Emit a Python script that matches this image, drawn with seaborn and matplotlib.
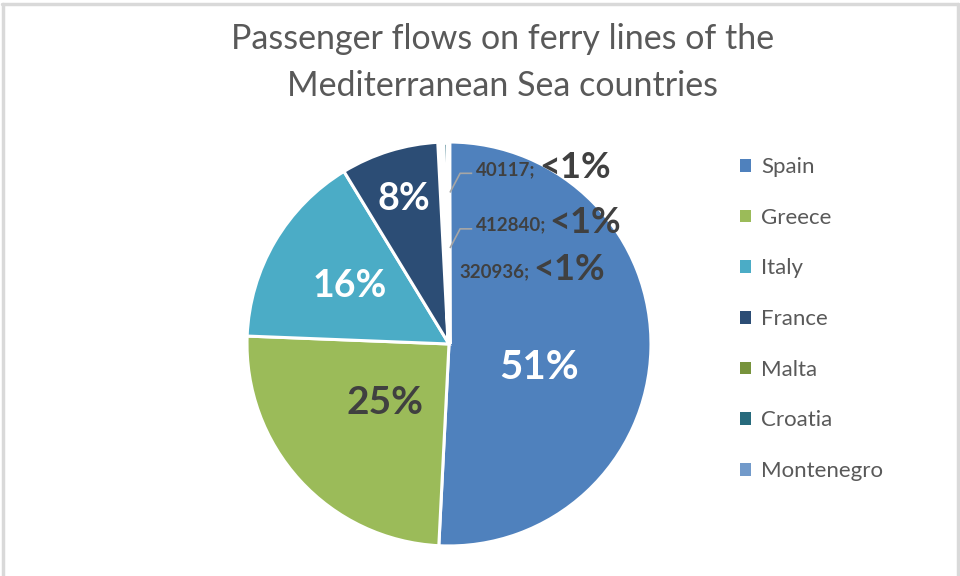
import numpy as np
import seaborn as sns
import matplotlib.pyplot as plt
from matplotlib.patches import Patch
from matplotlib.lines import Line2D

sns.set_theme(style="white")
plt.rcParams['font.family'] = ['Lato', 'DejaVu Sans']

# passenger counts (small slices are labelled with their values)
countries = ["Spain", "Greece", "Italy", "France", "Malta", "Croatia", "Montenegro"]
passengers = [48300000, 23600000, 14900000, 7500000, 320936, 412840, 40117]
colors = ["#4F81BD", "#9BBB59", "#4BACC6", "#2C4D75", "#77933C", "#276A7C", "#729ACA"]

fig = plt.figure(figsize=(9.6, 5.76), dpi=100)
ax = fig.add_axes([0.2573, 0.0521, 0.4208, 0.7014])

wedges, _ = ax.pie(passengers, colors=colors, startangle=90, counterclock=False,
                   radius=1.0, wedgeprops=dict(edgecolor="white", linewidth=2.2))
# the tiny slices are hidden under the white borders in the original
for w in wedges[4:]:
    w.set_linewidth(3.5)
ax.set_xlim(-1, 1)
ax.set_ylim(-1, 1)
ax.set_aspect("equal")
ax.axis("off")

total = sum(passengers)
shares = [p / total * 100 for p in passengers]

# big slice labels: distance from centre and angle shift
dist = [0.46, 0.43, 0.57, 0.75]
shift = [-13, 0, 0, 0]
txt_col = ["white", "#404040", "white", "white"]
sizes = [29, 28, 27, 27]
for i in range(4):
    w = wedges[i]
    ang = np.deg2rad((w.theta1 + w.theta2) / 2 + shift[i])
    ax.text(dist[i] * np.cos(ang), dist[i] * np.sin(ang), f"{shares[i]:.0f}%",
            ha="center", va="center", fontsize=sizes[i], fontweight="bold", color=txt_col[i])

# small slice labels: value; <1%
small_pos = {"Montenegro": (0.43, 0.875), "Croatia": (0.48, 0.60), "Malta": (0.40, 0.37)}
for i in range(4, 7):
    lx, ly = small_pos[countries[i]]
    ax.text(lx, ly - 0.01, f"{passengers[i]};", ha="right", va="center", fontsize=13.5,
            fontweight="bold", color="#404040")
    ax.text(lx + 0.015, ly, "<1%" if shares[i] < 1 else f"{shares[i]:.0f}%",
            ha="left", va="center", fontsize=26, fontweight="bold", color="#404040")

# leader lines for the two upper small labels
for name, pt in [("Montenegro", (0.005, 0.75)), ("Croatia", (0.005, 0.475))]:
    lx, ly = small_pos[name]
    ax.plot([pt[0], pt[0] + 0.05, 0.115], [pt[1], ly - 0.03, ly - 0.03],
            color="#A6A6A6", lw=1.2, solid_capstyle="butt")

# title
fig.text(0.523, 0.891, "Passenger flows on ferry lines of the\nMediterranean Sea countries",
         ha="center", va="center", fontsize=24.5, color="#595959", linespacing=1.57)

# legend
handles = [Patch(facecolor=c, edgecolor="none") for c in colors]
fig.legend(handles, countries, loc="upper left", bbox_to_anchor=(0.75, 0.762),
           frameon=False, fontsize=16, labelcolor="#595959", handlelength=0.5,
           handleheight=0.5, handletextpad=0.45, labelspacing=1.38)

# light frame of the chart area
for xs, ys in [([0.002, 0.998], [0.993, 0.993]), ([0.003, 0.003], [0, 0.993]),
               ([0.998, 0.998], [0, 0.993])]:
    fig.add_artist(Line2D(xs, ys, color="#D9D9D9", lw=2.5))

fig.savefig("out.png", dpi=100, facecolor="white")
